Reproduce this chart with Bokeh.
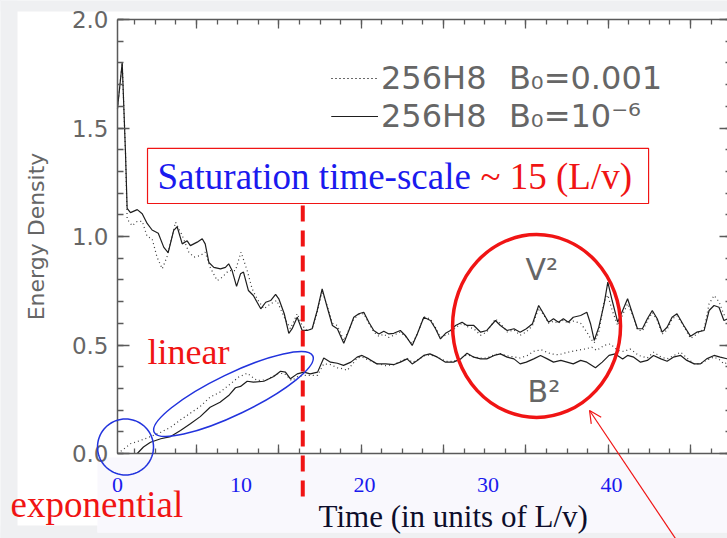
import math
from bokeh.plotting import figure
from bokeh.models import (Range1d, LinearAxis, FixedTicker, PrintfTickFormatter, Legend,
                          LegendItem, Label, BoxAnnotation, PolyAnnotation, Arrow, OpenHead)
from bokeh.embed import file_html
from bokeh.resources import INLINE

# ---------------- data (time in units of L/v) ----------------
T_V_SOLID = [0, 0.38, 0.65, 0.78, 1.05, 1.6, 2.0, 2.4, 2.8, 3.3, 3.75, 4.1, 4.55, 4.83, 5.24, 5.64,
             5.9, 6.45, 6.86, 7.1, 7.4, 7.8, 8.34, 8.74, 9.0, 9.28, 9.64, 9.96, 10.2, 10.6, 11.0,
             11.6, 12.0, 12.4, 12.8, 13.06, 13.5, 13.87, 14.14, 14.55, 14.95, 15.36, 15.76, 16.17,
             16.57, 16.98, 17.4, 17.8, 18.32, 18.73, 19.13, 19.54, 19.94, 20.35, 20.75, 21.16,
             21.56, 21.97, 22.37, 22.9, 23.3, 23.86, 24.27, 24.8, 25.34, 25.75, 26.15, 26.56,
             26.96, 27.37, 27.9, 28.3, 28.85, 29.4, 29.9, 30.6, 31.0, 31.55, 32.1, 32.6, 33.1,
             33.6, 34.1, 34.5, 34.9, 35.3, 35.7, 36.1, 36.5, 36.9, 37.5, 38.0, 38.3, 38.6, 38.97,
             39.4, 39.7, 40.05, 40.5, 40.9, 41.3, 41.7, 42.1, 42.5, 42.9, 43.3, 43.7, 44.1, 44.5,
             44.9, 45.3, 45.85, 46.4, 46.9, 47.5, 47.9, 48.3, 48.7, 49.1, 49.4]
V_SOLID = [1.59, 1.80, 1.38, 1.13, 1.11, 1.124, 1.105, 1.06, 1.03, 1.015, 0.95, 0.926, 1.028, 1.045,
           0.966, 0.98, 0.958, 0.974, 0.99, 0.966, 0.88, 0.858, 0.851, 0.858, 0.874, 0.843, 0.77,
           0.828, 0.836, 0.751, 0.728, 0.667, 0.697, 0.705, 0.733, 0.713, 0.644, 0.554, 0.575,
           0.628, 0.567, 0.567, 0.575, 0.659, 0.759, 0.674, 0.59, 0.575, 0.508, 0.567, 0.628,
           0.644, 0.651, 0.605, 0.567, 0.551, 0.563, 0.551, 0.554, 0.567, 0.544, 0.498, 0.551,
           0.628, 0.613, 0.575, 0.528, 0.554, 0.567, 0.59, 0.605, 0.59, 0.59, 0.559, 0.567, 0.613,
           0.59, 0.567, 0.575, 0.559, 0.575, 0.598, 0.682, 0.644, 0.605, 0.621, 0.605, 0.621,
           0.605, 0.628, 0.636, 0.651, 0.598, 0.521, 0.582, 0.69, 0.79, 0.705, 0.605, 0.659,
           0.713, 0.644, 0.575, 0.575, 0.621, 0.659, 0.621, 0.559, 0.582, 0.628, 0.644, 0.59,
           0.54, 0.559, 0.567, 0.659, 0.682, 0.674, 0.613, 0.621]

T_V_DOT = [0, 0.38, 0.65, 0.78, 1.19, 1.6, 2.0, 2.4, 2.8, 3.2, 3.62, 4.0, 4.7, 5.24, 5.77, 6.18,
           6.7, 7.1, 7.5, 8.07, 8.48, 9.0, 9.55, 10.0, 10.5, 10.9, 11.3, 11.85, 12.4, 12.9, 13.5,
           14.0, 14.55, 14.95, 15.36, 15.76, 16.17, 16.57, 16.98, 17.4, 17.8, 18.32, 18.73, 19.13,
           19.54, 19.94, 20.35, 20.75, 21.16, 21.56, 21.97, 22.37, 22.9, 23.3, 23.86, 24.27, 24.8,
           25.34, 25.75, 26.15, 26.56, 26.96, 27.37, 27.9, 28.3, 28.85, 29.4, 29.9, 30.6, 31.0,
           31.55, 32.1, 32.6, 33.1, 33.6, 34.1, 34.5, 34.9, 35.3, 35.7, 36.1, 36.5, 36.9, 37.5,
           38.0, 38.3, 38.6, 38.97, 39.4, 39.7, 40.05, 40.5, 40.9, 41.3, 41.7, 42.1, 42.5, 42.9,
           43.3, 43.7, 44.1, 44.5, 44.9, 45.3, 45.85, 46.4, 46.9, 47.5, 47.9, 48.3, 48.7, 49.1, 49.4]
V_DOT = [1.59, 1.80, 1.38, 1.08, 1.05, 1.07, 1.07, 1.0, 0.99, 0.905, 0.851, 0.905, 1.066, 1.005,
         0.928, 0.905, 0.912, 0.928, 0.858, 0.797, 0.812, 0.843, 0.843, 0.928, 0.843, 0.759, 0.713,
         0.667, 0.69, 0.705, 0.628, 0.575, 0.644, 0.59, 0.567, 0.575, 0.65, 0.75, 0.68, 0.6, 0.59,
         0.52, 0.57, 0.62, 0.64, 0.645, 0.6, 0.56, 0.54, 0.55, 0.535, 0.545, 0.56, 0.54, 0.505,
         0.55, 0.63, 0.62, 0.58, 0.535, 0.545, 0.555, 0.58, 0.6, 0.585, 0.575, 0.545, 0.56, 0.62,
         0.6, 0.56, 0.57, 0.545, 0.56, 0.59, 0.67, 0.64, 0.6, 0.61, 0.6, 0.615, 0.6, 0.61, 0.6,
         0.56, 0.53, 0.51, 0.56, 0.7, 0.73, 0.66, 0.59, 0.64, 0.69, 0.64, 0.57, 0.565, 0.61, 0.65,
         0.615, 0.55, 0.57, 0.62, 0.635, 0.585, 0.53, 0.55, 0.575, 0.69, 0.728, 0.7, 0.64, 0.63]

T_B_SOLID = [0, 1.6, 2.1, 2.67, 3.5, 4.3, 5.1, 5.9, 6.7, 7.5, 8.3, 9.0, 9.55, 9.96, 10.5, 11.0,
             11.85, 12.65, 13.2, 13.6, 14.0, 14.55, 15.1, 15.6, 16.2, 16.7, 17.25, 17.8, 18.3,
             18.9, 19.4, 19.8, 20.35, 21.0, 21.7, 22.4, 22.9, 23.45, 23.86, 24.27, 24.8, 25.3,
             25.9, 26.56, 27.2, 27.8, 28.3, 28.85, 29.4, 29.9, 30.5, 31.0, 31.55, 32.1, 32.6, 33.1,
             33.7, 34.25, 34.8, 35.3, 35.9, 36.4, 36.9, 37.5, 38.0, 38.7, 39.25, 39.8, 40.3, 40.9,
             41.3, 41.8, 42.35, 42.9, 43.4, 44.0, 44.5, 45.0, 45.6, 46.1, 46.7, 47.2, 47.7, 48.3,
             48.8, 49.4]
B_SOLID = [0, 0, 0.03, 0.052, 0.068, 0.078, 0.106, 0.137, 0.17, 0.213, 0.236, 0.267, 0.303, 0.309,
           0.333, 0.329, 0.333, 0.355, 0.379, 0.375, 0.344, 0.367, 0.375, 0.367, 0.375, 0.44, 0.421,
           0.416, 0.406, 0.421, 0.444, 0.452, 0.436, 0.413, 0.413, 0.41, 0.421, 0.436, 0.413, 0.429,
           0.452, 0.459, 0.444, 0.421, 0.421, 0.436, 0.462, 0.444, 0.436, 0.436, 0.452, 0.459,
           0.444, 0.436, 0.413, 0.421, 0.436, 0.452, 0.436, 0.421, 0.429, 0.421, 0.413, 0.429,
           0.421, 0.395, 0.421, 0.452, 0.459, 0.436, 0.452, 0.444, 0.421, 0.429, 0.452, 0.436,
           0.425, 0.444, 0.452, 0.429, 0.413, 0.413, 0.436, 0.452, 0.444, 0.436]

T_B_DOT = [0, 0.5, 1.05, 1.86, 2.67, 3.5, 4.3, 5.1, 5.9, 6.7, 7.5, 8.3, 9.15, 9.8, 10.5, 11.3,
           12.1, 12.9, 13.5, 14.1, 14.6, 15.1, 15.6, 16.2, 16.7, 17.25, 17.8, 18.3, 18.6, 19.0,
           19.4, 19.8, 20.35, 21.0, 21.7, 22.4, 22.9, 23.45, 23.86, 24.27, 24.8, 25.3, 25.9, 26.56,
           27.2, 27.8, 28.3, 28.85, 29.4, 29.9, 30.5, 31.0, 31.55, 32.1, 32.6, 33.2, 33.7, 34.3,
           35.1, 35.7, 36.5, 37.2, 37.9, 38.4, 38.8, 39.4, 39.9, 40.5, 41.0, 41.5, 42.2, 42.9,
           43.4, 44.0, 44.5, 45.0, 45.6, 46.1, 46.7, 47.2, 47.7, 48.3, 48.8, 49.1, 49.4]
B_DOT = [0, 0.02, 0.045, 0.06, 0.078, 0.098, 0.121, 0.155, 0.186, 0.217, 0.26, 0.283, 0.321, 0.352,
         0.37, 0.336, 0.34, 0.367, 0.37, 0.336, 0.355, 0.36, 0.36, 0.36, 0.413, 0.41, 0.395, 0.39,
         0.383, 0.41, 0.44, 0.445, 0.43, 0.415, 0.405, 0.41, 0.425, 0.44, 0.42, 0.43, 0.45, 0.455,
         0.445, 0.425, 0.425, 0.44, 0.455, 0.445, 0.44, 0.44, 0.455, 0.46, 0.45, 0.445, 0.44,
         0.452, 0.471, 0.478, 0.459, 0.455, 0.467, 0.475, 0.482, 0.49, 0.475, 0.498, 0.505, 0.475,
         0.47, 0.482, 0.452, 0.44, 0.467, 0.445, 0.436, 0.45, 0.467, 0.44, 0.413, 0.413, 0.43,
         0.445, 0.43, 0.413, 0.42]

LEGEND_LABELS = ["256H8\u2002\u2009B\u2080=0.001", "256H8\u2002\u2009B\u2080=10\u207b\u2076"]
Y_TICKS = [0.0, 0.5, 1.0, 1.5, 2.0]
Y_MINOR = [round(0.1 * i, 1) for i in range(21)]
X_LABEL_TICKS = [0, 10, 20, 30, 40]
X_END = 49.39
X_MARK_MAJOR = [6.4 + 6.667 * k for k in range(7)]
X_MARK_MINOR = [1.4 + 1.6667 * k for k in range(29)]

# ---------------- style ----------------
AXC = "#5a5a5a"
TXT = "#666666"
RED = "#f01414"
BLUE = "#1a1aee"
SLIDE = "#eff0f2"
SERIF = "Liberation Serif"
SANS = "DejaVu Sans"

# the frame fills the whole figure; the axes sit at fixed data locations inside it
p = figure(width=727, height=538, x_range=Range1d(-9.474, X_END), y_range=Range1d(-0.3917, 2.0876),
           x_axis_type=None, y_axis_type=None, output_backend="svg", toolbar_location=None,
           min_border=0, background_fill_color="white", border_fill_color="white",
           outline_line_color=None)


def style_axis(ax, major_in, minor_in):
    ax.axis_line_color = AXC
    ax.axis_line_width = 1.5
    ax.major_tick_line_color = AXC
    ax.major_tick_line_width = 1.3
    ax.minor_tick_line_color = AXC
    ax.minor_tick_line_width = 1.3
    ax.major_tick_in = major_in
    ax.major_tick_out = 0
    ax.minor_tick_in = minor_in
    ax.minor_tick_out = 0


def tick_only_axis(loc, fixed, bounds, positions, length, line=True):
    # label-free axis: every mark is a "minor" tick, so no tick labels are drawn
    ax = LinearAxis(ticker=FixedTicker(ticks=[], minor_ticks=positions),
                    fixed_location=fixed, bounds=bounds)
    style_axis(ax, 0, length)
    if not line:
        ax.axis_line_color = None
    p.add_layout(ax, loc)


def band(**kw):
    p.add_layout(BoxAnnotation(fill_alpha=1, line_color=None, level="underlay", **kw))


def text(x, y, s, font, size, color):
    p.add_layout(Label(x=x, y=y, text=s, text_font=font, text_font_size=size,
                       text_color=color, text_baseline="middle", text_align="left"))


# background pieces of the slide
band(right=-8.097, fill_color=SLIDE)
band(bottom=2.0369, fill_color=SLIDE)
band(top=-0.364, fill_color=SLIDE)
band(right=-1.62, top=-0.332, fill_color=SLIDE)
band(left=-1.62, top=-0.018, bottom=-0.364, fill_color="#f9f8fd")

yax = LinearAxis(ticker=FixedTicker(ticks=Y_TICKS, minor_ticks=Y_MINOR),
                 formatter=PrintfTickFormatter(format="%.1f"), axis_label="Energy Density",
                 fixed_location=0, bounds=(0, 2.0))
style_axis(yax, 12, 6)
yax.major_label_text_font = SANS
yax.major_label_text_font_size = "23px"
yax.major_label_text_color = TXT
yax.major_label_standoff = 9
yax.axis_label_text_font = SANS
yax.axis_label_text_font_size = "22px"
yax.axis_label_text_font_style = "normal"
yax.axis_label_text_color = TXT
yax.axis_label_standoff = 20
p.add_layout(yax, "left")

for loc, fixed in (("above", 2.0), ("below", 0.0)):
    tick_only_axis(loc, fixed, (0, X_END), X_MARK_MAJOR, 9)
    tick_only_axis(loc, fixed, (0, X_END), X_MARK_MINOR, 5, line=False)
tick_only_axis("right", X_END, (0, 2.0), Y_TICKS, 8, line=False)
tick_only_axis("right", X_END, (0, 2.0), Y_MINOR, 2, line=False)

lax = LinearAxis(ticker=FixedTicker(ticks=X_LABEL_TICKS, minor_ticks=[]), fixed_location=0,
                 bounds=(0, X_END))
lax.axis_line_color = None
lax.major_tick_line_color = None
lax.minor_tick_line_color = None
lax.major_tick_in = 0
lax.major_tick_out = 0
lax.major_label_text_font = SERIF
lax.major_label_text_font_size = "22px"
lax.major_label_text_color = BLUE
lax.major_label_standoff = 24
p.add_layout(lax, "below")

# ---------------- curves ----------------
r_vd = p.line(T_V_DOT, V_DOT, line_color="#3a3a3a", line_width=1.2, line_dash="1 3")
r_bd = p.line(T_B_DOT, B_DOT, line_color="#3a3a3a", line_width=1.2, line_dash="1 3")
r_vs = p.line(T_V_SOLID, V_SOLID, line_color="#1e1e1e", line_width=1.2)
r_bs = p.line(T_B_SOLID, B_SOLID, line_color="#1e1e1e", line_width=1.2)

# one legend per row, so that each row sits where the reference puts it
for label, rends, ypos in ((LEGEND_LABELS[0], [r_vd, r_bd], 441),
                           (LEGEND_LABELS[1], [r_vs, r_bs], 403)):
    p.add_layout(Legend(items=[LegendItem(label=label, renderers=rends)],
                        location=(331, ypos), background_fill_alpha=0, border_line_color=None,
                        padding=0, margin=0, spacing=0, glyph_width=47, glyph_height=20,
                        label_standoff=3, label_text_font=SANS, label_text_font_size="32px",
                        label_text_color=TXT))

# ---------------- annotations ----------------
p.ellipse(x=[33.93], y=[0.5876], width=[13.6], height=[0.843], fill_color=None,
          line_color=RED, line_width=3.5)
p.ellipse(x=[9.39], y=[0.274], width=176, height=41, width_units="screen",
          height_units="screen", angle=math.radians(25.7), fill_color=None,
          line_color="#2233dd", line_width=1.5)
circ_t = [2 * math.pi * i / 72 for i in range(73)]
p.add_layout(PolyAnnotation(xs=[0.648 + 28 / 12.35 * math.cos(a) for a in circ_t],
                            ys=[0.030 + 28 / 217 * math.sin(a) for a in circ_t],
                            fill_alpha=0, line_color="#2233dd", line_alpha=1, line_width=1.5))

p.add_layout(BoxAnnotation(left=2.43, right=43.0, bottom=1.152, top=1.406, fill_color="white",
                           fill_alpha=1, line_color=RED, line_alpha=1, line_width=1.2))
text(3.24, 1.276, "Saturation time-scale", SERIF, "37px", BLUE)
text(29.39, 1.276, "~ 15 (L/v)", SERIF, "37px", RED)

p.add_layout(Arrow(end=None, x_start=15.0, y_start=1.143, x_end=15.0, y_end=-0.207,
                   line_color=RED, line_width=4, line_dash="16 9"))
p.add_layout(Arrow(end=OpenHead(size=12, line_color=RED, line_width=1.2),
                   x_start=45.18, y_start=-0.392, x_end=38.22, y_end=0.198,
                   line_color=RED, line_width=1.2))

text(2.43, 0.470, "linear", SERIF, "36px", RED)
text(-8.66, -0.237, "exponential", SERIF, "37px", RED)
text(33.04, 0.850, "V\u00b2", SANS, "30px", TXT)
text(33.2, 0.2876, "B\u00b2", SANS, "30px", TXT)
text(16.28, -0.2926, "Time (in units of L/v)", SERIF, "31px", "#0d0d2b")

html = file_html(p, INLINE)
html = html.replace("</head>", "<style>html, body { background-color: #eff0f2; }</style></head>", 1)
open("out.html", "w").write(html)
